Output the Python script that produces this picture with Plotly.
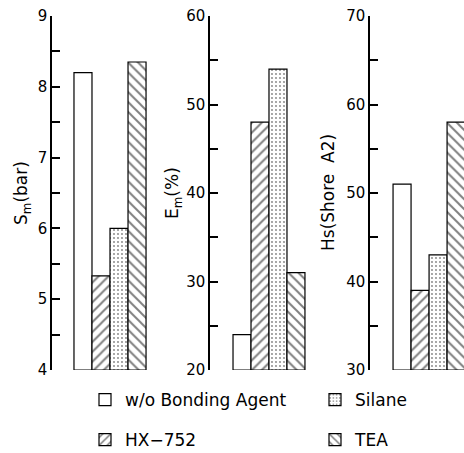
import plotly.graph_objects as go

# ---- data ----
categories = ["w/o Bonding Agent", "HX\u2212752", "Silane", "TEA"]
sm_values = [8.2, 5.33, 6.0, 8.35]     # S_m (bar)
em_values = [24, 48, 54, 31]           # E_m (%)
hs_values = [51, 39, 43, 58]           # Hs (Shore A2)

panel_values = [sm_values, em_values, hs_values]
panel_titles = ["S<sub>m</sub>(bar)", "E<sub>m</sub>(%)", "Hs(Shore  A2)"]
y_ranges = [[4, 9], [20, 60], [30, 70]]
y_dticks = [1, 10, 10]

# ---- styles ----
W, H = 464, 453
FONT = "DejaVu Sans"
patterns = [
    dict(shape=""),
    dict(shape="/", size=7, solidity=0.28, fgcolor="black", bgcolor="white"),
    dict(shape=".", size=4, solidity=0.16, fgcolor="black", bgcolor="white"),
    dict(shape="\\", size=7, solidity=0.28, fgcolor="black", bgcolor="white"),
]
legend_names = ["legend", "legend3", "legend2", "legend4"]
# legend item positions in pixels (left of legend box, vertical centre)
legend_pos_px = {"legend": (85, 400), "legend2": (315, 400),
                 "legend3": (85, 440), "legend4": (315, 440)}

# panel geometry in pixels (axis position, right edge) and x ranges
x_domains_px = [(52, 150), (210, 310), (370, 464)]
x_ranges = [[-1.72, 3.72], [-1.78, 3.78], [-1.78, 3.44]]
title_x_px = [22, 173, 328]
PLOT_TOP, PLOT_BOTTOM = 16, 370

fig = go.Figure()

for p in range(3):
    xa = "x" if p == 0 else f"x{p+1}"
    ya = "y" if p == 0 else f"y{p+1}"
    for i, cat in enumerate(categories):
        fig.add_trace(go.Bar(
            x=[i], y=[panel_values[p][i] - y_ranges[p][0]], base=[y_ranges[p][0]],
            width=1.0, name=cat, xaxis=xa, yaxis=ya,
            marker=dict(color="white", line=dict(color="black", width=1.2),
                        pattern=patterns[i]),
            showlegend=(p == 0), legend=legend_names[i],
            hoverinfo="skip",
        ))

layout = dict(
    width=W, height=H,
    margin=dict(l=0, r=0, t=PLOT_TOP, b=H - PLOT_BOTTOM, autoexpand=False),
    paper_bgcolor="white", plot_bgcolor="white",
    barmode="overlay",
    font=dict(family=FONT, color="black", size=15),
    showlegend=True,
)

for p in range(3):
    xk = "xaxis" if p == 0 else f"xaxis{p+1}"
    yk = "yaxis" if p == 0 else f"yaxis{p+1}"
    ya_ref = "y" if p == 0 else f"y{p+1}"
    xa_ref = "x" if p == 0 else f"x{p+1}"
    d0, d1 = x_domains_px[p]
    layout[xk] = dict(domain=[d0 / W, d1 / W], range=x_ranges[p], anchor=ya_ref,
                      visible=False, fixedrange=True)
    layout[yk] = dict(anchor=xa_ref, range=y_ranges[p], dtick=y_dticks[p],
                      tick0=y_ranges[p][0],
                      showline=True, linecolor="black", linewidth=1.5,
                      ticks="inside", ticklen=8, tickwidth=1.5, tickcolor="black",
                      showgrid=False, zeroline=False,
                      tickfont=dict(family=FONT, size=15, color="black"),
                      minor=dict(dtick=y_dticks[p] / 2, ticks="inside", ticklen=8,
                                 tickwidth=1.5, tickcolor="black", showgrid=False))

annotations = []
for p in range(3):
    annotations.append(dict(
        text=panel_titles[p], xref="paper", yref="paper",
        x=title_x_px[p] / W, y=0.5, xanchor="center", yanchor="middle",
        textangle=-90, showarrow=False,
        font=dict(family=FONT, size=17, color="black")))
layout["annotations"] = annotations

plot_h = PLOT_BOTTOM - PLOT_TOP
for name, (lx, ly) in legend_pos_px.items():
    layout[name] = dict(orientation="h", xanchor="left", yanchor="middle",
                        x=lx / W, y=(PLOT_BOTTOM - ly) / plot_h,
                        font=dict(family=FONT, size=17, color="black"),
                        bgcolor="rgba(0,0,0,0)",
                        itemclick=False, itemdoubleclick=False)

fig.update_layout(**layout)
fig.write_html("out.html",
               config={"displayModeBar": False},
               post_script="document.body.style.margin='0px';"
                           "document.body.style.overflow='hidden';")
